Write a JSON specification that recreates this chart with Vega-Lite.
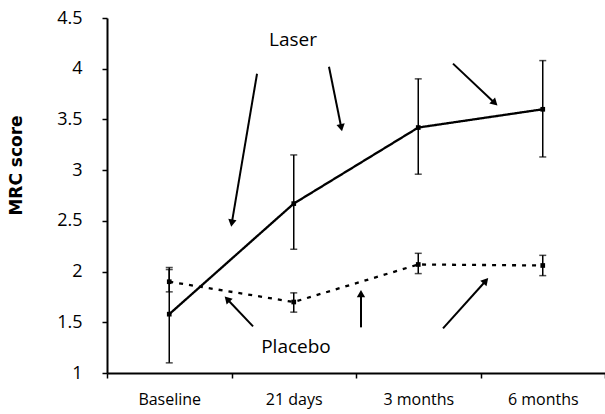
{
  "$schema": "https://vega.github.io/schema/vega-lite/v6.json",
  "width": 498,
  "height": 355,
  "autosize": "none",
  "padding": {"left": 107, "top": 18, "right": 0, "bottom": 41},
  "background": "white",
  "config": {
    "view": {"stroke": null},
    "font": "Open Sans",
    "axis": {"grid": false, "domainColor": "black", "tickColor": "black", "labelColor": "black", "titleColor": "black", "domainWidth": 2, "tickWidth": 1.5, "labelFont": "Open Sans"},
    "axisX": {"labelFontSize": 16, "labelPadding": 13, "tickSize": 5, "labelAngle": 0},
    "axisY": {"labelFontSize": 18, "labelPadding": 20, "tickSize": 5, "titleFont": "DejaVu Sans", "titleFontSize": 17, "titleFontWeight": "bold", "titleX": -82, "titleY": 147, "titleAlign": "center", "titleBaseline": "bottom", "titleAngle": -90}
  },
  "datasets": {
    "scores": [
      {"time": "Baseline", "group": "Laser", "mean": 1.58, "low": 1.1, "high": 2.04},
      {"time": "21 days", "group": "Laser", "mean": 2.67, "low": 2.22, "high": 3.15},
      {"time": "3 months", "group": "Laser", "mean": 3.42, "low": 2.96, "high": 3.9},
      {"time": "6 months", "group": "Laser", "mean": 3.6, "low": 3.13, "high": 4.08},
      {"time": "Baseline", "group": "Placebo", "mean": 1.9, "low": 1.8, "high": 2.02},
      {"time": "21 days", "group": "Placebo", "mean": 1.7, "low": 1.6, "high": 1.79},
      {"time": "3 months", "group": "Placebo", "mean": 2.07, "low": 1.98, "high": 2.18},
      {"time": "6 months", "group": "Placebo", "mean": 2.06, "low": 1.96, "high": 2.16}
    ],
    "arrows": [
      {"group": "Laser", "x": 1.205, "y": 3.95, "x2": 1.004, "y2": 2.49},
      {"group": "Laser", "x": 1.783, "y": 4.02, "x2": 1.88, "y2": 3.43},
      {"group": "Laser", "x": 2.779, "y": 4.05, "x2": 3.108, "y2": 3.67},
      {"group": "Placebo", "x": 1.173, "y": 1.46, "x2": 0.972, "y2": 1.72},
      {"group": "Placebo", "x": 2.04, "y": 1.45, "x2": 2.04, "y2": 1.77},
      {"group": "Placebo", "x": 2.699, "y": 1.44, "x2": 3.036, "y2": 1.9}
    ],
    "labels": [
      {"text": "Laser", "x": 1.494, "y": 4.28},
      {"text": "Placebo", "x": 1.518, "y": 1.26}
    ]
  },
  "layer": [
    {
      "data": {"name": "scores"},
      "encoding": {
        "x": {
          "field": "time", "type": "nominal",
          "scale": {"type": "band", "domain": ["Baseline", "21 days", "3 months", "6 months"], "paddingInner": 0, "paddingOuter": 0},
          "axis": {"title": null, "tickBand": "extent"}
        }
      },
      "layer": [
        {
          "mark": {"type": "errorbar", "ticks": {"size": 7, "thickness": 1.5}, "thickness": 1.5, "color": "black"},
          "encoding": {
            "y": {"field": "low", "type": "quantitative", "scale": {"domain": [1, 4.5], "nice": false, "zero": false},
              "axis": {"title": "MRC score", "format": "~g", "values": [1, 1.5, 2, 2.5, 3, 3.5, 4, 4.5], "labelFontSize": 18, "labelPadding": 20}},
            "y2": {"field": "high"},
            "detail": {"field": "group"}
          }
        },
        {
          "mark": {"type": "line", "color": "black", "strokeWidth": 2.3},
          "encoding": {
            "y": {"field": "mean", "type": "quantitative", "axis": {"title": "MRC score", "format": "~g", "values": [1, 1.5, 2, 2.5, 3, 3.5, 4, 4.5], "labelFontSize": 18, "labelPadding": 20}},
            "detail": {"field": "group"},
            "strokeDash": {"field": "group", "type": "nominal", "scale": {"domain": ["Laser", "Placebo"], "range": [[1, 0], [4, 6]]}, "legend": null}
          }
        },
        {
          "mark": {"type": "point", "shape": "square", "filled": true, "color": "black", "size": 22, "opacity": 1},
          "encoding": {
            "y": {"field": "mean", "type": "quantitative", "axis": {"title": "MRC score", "format": "~g", "values": [1, 1.5, 2, 2.5, 3, 3.5, 4, 4.5], "labelFontSize": 18, "labelPadding": 20}}
          }
        }
      ]
    },
    {
      "layer": [
        {
          "data": {"name": "arrows"},
          "mark": {"type": "rule", "color": "black", "strokeWidth": 2},
          "encoding": {
            "x": {"field": "x", "type": "quantitative", "scale": {"domain": [0, 4], "nice": false, "zero": false}, "axis": null},
            "y": {"field": "y", "type": "quantitative", "scale": {"domain": [1, 4.5], "nice": false, "zero": false}, "axis": null},
            "x2": {"field": "x2"},
            "y2": {"field": "y2"}
          }
        },
        {
          "data": {"name": "arrows"},
          "transform": [
            {"calculate": "atan2((datum.x2 - datum.x) * 124.5, (datum.y2 - datum.y) * 101.4) * 180 / PI", "as": "angle"}
          ],
          "mark": {"type": "point", "shape": "triangle", "filled": true, "color": "black", "opacity": 1, "size": 70},
          "encoding": {
            "x": {"field": "x2", "type": "quantitative"},
            "y": {"field": "y2", "type": "quantitative"},
            "angle": {"field": "angle", "type": "quantitative", "scale": null}
          }
        },
        {
          "data": {"name": "labels"},
          "mark": {"type": "text", "fontSize": 19, "font": "Open Sans", "color": "black", "align": "center", "baseline": "middle"},
          "encoding": {
            "x": {"field": "x", "type": "quantitative"},
            "y": {"field": "y", "type": "quantitative"},
            "text": {"field": "text"}
          }
        }
      ]
    }
  ],
  "resolve": {"scale": {"x": "independent", "y": "independent"}}
}
